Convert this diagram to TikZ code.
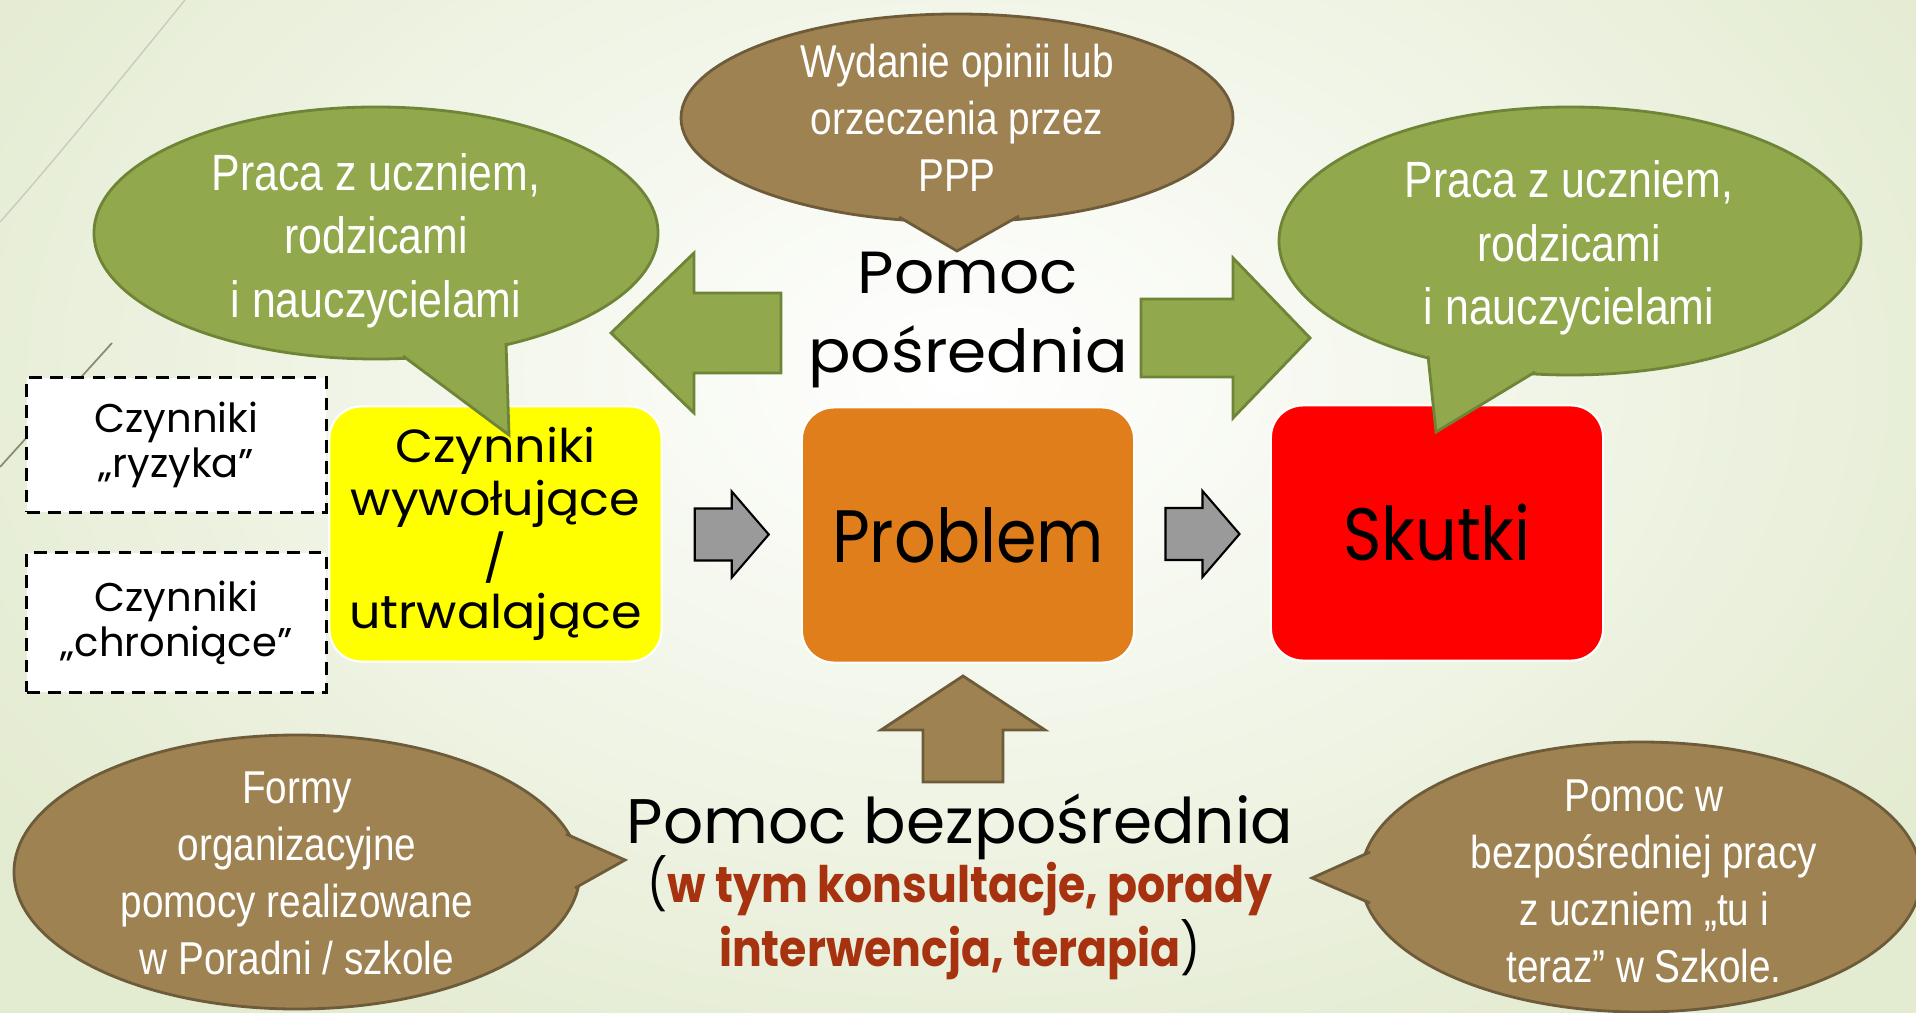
\documentclass[tikz,border=0pt]{standalone}
\usepackage{fontspec}
\setmainfont{Poppins}
\newfontfamily\narrowfont{Liberation Sans}[FakeStretch=0.84]
\newfontfamily\tightgothic{Poppins}[FakeStretch=0.88]
\newfontfamily\widegothic{Poppins}[FakeStretch=1.06]
\usetikzlibrary{calc}
\definecolor{bubgreen}{HTML}{92A84D}
\definecolor{bubgreenedge}{HTML}{6E8537}
\definecolor{bubbrown}{HTML}{9F8252}
\definecolor{bubbrownedge}{HTML}{6E5B3A}
\definecolor{boxorange}{HTML}{DF7E1A}
\definecolor{boxred}{HTML}{FF0000}
\definecolor{boxyellow}{HTML}{FFFF00}
\definecolor{arrowgrey}{HTML}{9A9A9A}
\definecolor{textred}{HTML}{A6320F}
\definecolor{slidegreen}{HTML}{E3EBD0}
\definecolor{decoline}{HTML}{8C8A72}

\begin{document}
\begin{tikzpicture}[x=0.01cm, y=-0.01cm,
    factorbox/.style={rectangle, rounded corners=0.32cm, draw=white, line width=0.6pt,
      minimum width=3.32cm, minimum height=2.55cm, align=center, inner sep=0pt},
    riskbox/.style={rectangle, draw=black, fill=white, line width=0.85pt,
      dash pattern=on 3.6pt off 2.4pt, minimum width=2.99cm, align=center, inner sep=0pt,
      font=\fontsize{11.4}{12.8}\selectfont},
    greenbub/.style={draw=bubgreenedge, fill=bubgreen, line width=0.8pt},
    brownbub/.style={draw=bubbrownedge, fill=bubbrown, line width=0.8pt},
    greentext/.style={align=center, text=white, font=\narrowfont\fontsize{14.5}{18.1}\selectfont},
    browntext/.style={align=center, text=white, font=\narrowfont\fontsize{13.1}{16.2}\selectfont},
    greyblock/.style={draw=black, fill=arrowgrey, line width=0.6pt}]

        % slide background
        \useasboundingbox (0,0) rectangle (1916,1013);
        \clip (0,0) rectangle (1916,1013);
        \shade[inner color=white, outer color=slidegreen] (-200,-400) rectangle (2116,1150);
        \draw[decoline!45, line width=0.4pt] (185,0) .. controls (120,80) and (55,160) .. (0,222);
        \draw[decoline, line width=0.5pt] (112,343) -- (0,467);

        % risk / protective factors
        \node[riskbox, minimum height=1.34cm] (ryzyko) at (176.5,445) {Czynniki\\„ryzyka”};
        \node[riskbox, minimum height=1.39cm] (ochrona) at (176.5,622.5) {Czynniki\\„chroniące”};

        % main chain
        \node[factorbox, fill=boxyellow, font=\widegothic\fontsize{13.2}{15.2}\selectfont] (wyw) at (495.5,534)
          {Czynniki\\wywołujące\\/\\utrwalające};
        \node[factorbox, fill=boxorange, font=\tightgothic\fontsize{21.1}{25}\selectfont] (prob) at (968,535) {Problem};
        \node[factorbox, fill=boxred, font=\tightgothic\fontsize{21.1}{25}\selectfont] (skutki) at (1437,533) {Skutki};

        % grey arrows between boxes
        \draw[greyblock, shift={($(wyw.east)!0.5!(prob.west)$)}]
          (-37,-26) -- (0,-26) -- (0,-43) -- (37,0) -- (0,43) -- (0,26) -- (-37,26) -- cycle;
        \draw[greyblock, shift={($(prob.east)!0.5!(skutki.west)$)}]
          (-37,-26) -- (0,-26) -- (0,-43) -- (37,0) -- (0,43) -- (0,26) -- (-37,26) -- cycle;

        % indirect help
        \node[align=center, font=\widegothic\fontsize{16.9}{22.5}\selectfont] (posr) at (968,320) {Pomoc\\pośrednia};
        \draw[greenbub] (611,333) -- (694,253) -- (694,293) -- (781,293) -- (781,373) -- (694,373) -- (694,413) -- cycle;
        \draw[greenbub] (1310,338) -- (1233,258) -- (1233,299) -- (1141,299) -- (1141,377) -- (1233,377) -- (1233,418) -- cycle;

        % direct help
        \draw[brownbub] (963,676) -- (1045,730) -- (1003,730) -- (1003,782) -- (923,782) -- (923,730) -- (881,730) -- cycle;
        \node[anchor=base, font=\fontsize{17.9}{22}\selectfont] (bezp) at (960,843) {Pomoc bezpośrednia};
        \node[align=center, font=\tightgothic\fontsize{14.3}{16.2}\selectfont] (formy) at (960,918)
          {({\bfseries\color{textred}w tym konsultacje, porady}\\{\bfseries\color{textred}interwencja, terapia})};

        % callout: left
        \draw[greenbub] (376,233) ellipse [x radius=282, y radius=126];
        \draw[greenbub] (403,356) -- (509,435) -- (506,343);
        \node[greentext] (lewy) at (376,240.5) {Praca z uczniem,\\rodzicami\\i nauczycielami};

        % callout: right
        \draw[greenbub] (1570,241) ellipse [x radius=291, y radius=134];
        \draw[greenbub] (1428,356) -- (1436,432) -- (1535,372);
        \node[greentext] (prawy) at (1569,248) {Praca z uczniem,\\rodzicami\\i nauczycielami};

        % callout: top
        \draw[brownbub] (957,118) ellipse [x radius=276, y radius=104];
        \draw[brownbub] (899,217) -- (957,251) -- (1019,216);
        \node[browntext] (opinia) at (957,118) {Wydanie opinii lub\\orzeczenia przez\\PPP};

        % callout: bottom left
        \draw[brownbub] (297,872) ellipse [x radius=283, y radius=137];
        \draw[brownbub] (566,834) -- (625,860) -- (575,888);
        \node[browntext] (poradnia) at (297,873) {Formy\\organizacyjne\\pomocy realizowane\\w Poradni / szkole};

        % callout: bottom right
        \draw[brownbub] (1641,877) ellipse [x radius=280, y radius=135];
        \draw[brownbub] (1370,852) -- (1312,878) -- (1370,903);
        \node[browntext] (szkola) at (1644,881) {Pomoc w\\bezpośredniej pracy\\z uczniem „tu i\\teraz” w Szkole.};
      \end{tikzpicture}
\end{document}
